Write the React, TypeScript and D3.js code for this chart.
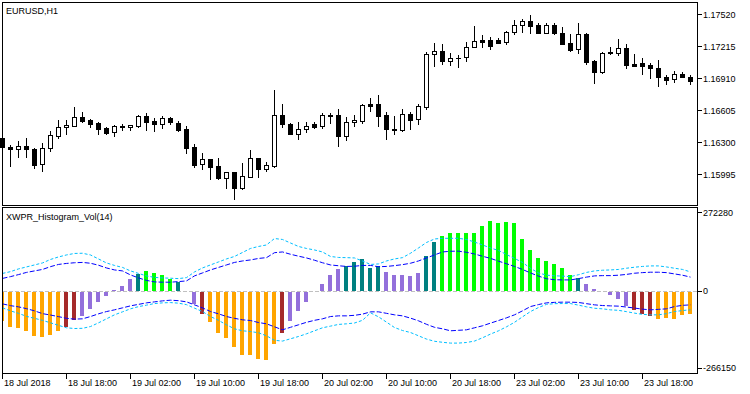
import React from 'react';
import * as d3 from 'd3';

// EURUSD H1 candles, 18 Jul 10:00 .. 24 Jul 00:00
const opens = [
  1.16338, 1.16252, 1.16233, 1.16262, 1.16233, 1.16091, 1.16243, 1.16357, 1.16443, 1.16453,
  1.16538, 1.16510, 1.16481, 1.16434, 1.16395, 1.16453, 1.16443, 1.16453, 1.16548, 1.16500,
  1.16472, 1.16529, 1.16481, 1.16424, 1.16252, 1.16091, 1.16138, 1.16072, 1.15957, 1.16014,
  1.15862, 1.15967, 1.16148, 1.16043, 1.16072, 1.16557, 1.16472, 1.16376, 1.16424, 1.16472,
  1.16453, 1.16548, 1.16557, 1.16357, 1.16491, 1.16500, 1.16662, 1.16662, 1.16557, 1.16424,
  1.16415, 1.16567, 1.16519, 1.16634, 1.17139, 1.17167, 1.17072, 1.17101, 1.17110, 1.17206,
  1.17272, 1.17272, 1.17272, 1.17253, 1.17348, 1.17415, 1.17453, 1.17415, 1.17339, 1.17415,
  1.17339, 1.17244, 1.17186, 1.17329, 1.17072, 1.16967, 1.17158, 1.17148, 1.17196, 1.17044,
  1.17053, 1.17034, 1.17005, 1.16920, 1.16901, 1.16948, 1.16920,
];
const highs = [
  1.16348, 1.16272, 1.16310, 1.16338, 1.16243, 1.16291, 1.16405, 1.16510, 1.16510, 1.16634,
  1.16586, 1.16519, 1.16491, 1.16443, 1.16462, 1.16472, 1.16462, 1.16557, 1.16577, 1.16529,
  1.16548, 1.16538, 1.16500, 1.16453, 1.16281, 1.16195, 1.16138, 1.16148, 1.16014, 1.16014,
  1.16100, 1.16224, 1.16148, 1.16110, 1.16796, 1.16662, 1.16481, 1.16491, 1.16491, 1.16491,
  1.16577, 1.16577, 1.16615, 1.16538, 1.16557, 1.16662, 1.16719, 1.16748, 1.16586, 1.16548,
  1.16615, 1.16586, 1.16662, 1.17158, 1.17244, 1.17234, 1.17148, 1.17129, 1.17253, 1.17406,
  1.17320, 1.17301, 1.17291, 1.17358, 1.17463, 1.17472, 1.17510, 1.17434, 1.17434, 1.17434,
  1.17396, 1.17329, 1.17434, 1.17339, 1.17082, 1.17158, 1.17206, 1.17282, 1.17234, 1.17139,
  1.17101, 1.17053, 1.17082, 1.16939, 1.16977, 1.16967, 1.16939,
];
const lows = [
  1.16243, 1.16072, 1.16157, 1.16157, 1.16053, 1.16024, 1.16214, 1.16338, 1.16376, 1.16453,
  1.16491, 1.16443, 1.16376, 1.16376, 1.16357, 1.16415, 1.16415, 1.16443, 1.16415, 1.16405,
  1.16434, 1.16472, 1.16405, 1.16195, 1.16062, 1.16043, 1.15948, 1.15948, 1.15862, 1.15757,
  1.15852, 1.15967, 1.15967, 1.16024, 1.16062, 1.16443, 1.16376, 1.16329, 1.16395, 1.16434,
  1.16434, 1.16481, 1.16262, 1.16319, 1.16453, 1.16481, 1.16596, 1.16453, 1.16329, 1.16376,
  1.16405, 1.16424, 1.16472, 1.16615, 1.17024, 1.17044, 1.17034, 1.17015, 1.17072, 1.17206,
  1.17206, 1.17186, 1.17244, 1.17234, 1.17329, 1.17348, 1.17339, 1.17339, 1.17339, 1.17329,
  1.17234, 1.17167, 1.17148, 1.17044, 1.16862, 1.16958, 1.17139, 1.17129, 1.17005, 1.17024,
  1.16948, 1.16910, 1.16834, 1.16853, 1.16872, 1.16920, 1.16853,
];
const closes = [
  1.16252, 1.16229, 1.16262, 1.16233, 1.16081, 1.16243, 1.16367, 1.16443, 1.16462, 1.16538,
  1.16500, 1.16472, 1.16424, 1.16386, 1.16453, 1.16443, 1.16462, 1.16548, 1.16491, 1.16472,
  1.16529, 1.16491, 1.16415, 1.16243, 1.16081, 1.16138, 1.16062, 1.15957, 1.16014, 1.15862,
  1.15976, 1.16148, 1.16043, 1.16081, 1.16557, 1.16472, 1.16376, 1.16424, 1.16453, 1.16443,
  1.16557, 1.16553, 1.16357, 1.16491, 1.16510, 1.16653, 1.16643, 1.16548, 1.16424, 1.16419,
  1.16567, 1.16510, 1.16643, 1.17139, 1.17167, 1.17072, 1.17101, 1.17105, 1.17206, 1.17263,
  1.17253, 1.17215, 1.17248, 1.17348, 1.17415, 1.17453, 1.17406, 1.17339, 1.17415, 1.17339,
  1.17234, 1.17177, 1.17329, 1.17063, 1.16967, 1.17148, 1.17144, 1.17196, 1.17034, 1.17024,
  1.17024, 1.17005, 1.16920, 1.16891, 1.16948, 1.16920, 1.16881,
];

// XWPR_Histogram_Vol(14)
const histValues = [
  -100000, -120000, -125500, -137000, -152000, -158000, -150000, -134000, -120000, -98000,
  -85000, -61000, -33500, -12700, 3500, 18500, 41500, 58800, 69000, 63400,
  55300, 41500, 31100, 0, -40300, -75000, -106000, -142000, -161000, -192500,
  -218000, -220000, -231700, -235000, -181000, -144000, -100000, -65700, -34600, 0,
  24200, 55300, 76000, 86500, 100300, 110700, 79500, 86500, 65700, 55300,
  55300, 51900, 62200, 121000, 170500, 190200, 200600, 200600, 200600, 200600,
  224800, 242000, 235000, 238600, 235000, 179800, 141800, 114100, 103700, 93400,
  79500, 55300, 45000, 24200, 6900, 0, -9300, -23100, -47300, -61100,
  -75000, -81900, -92300, -88800, -92300, -78500, -75000,
];
// O orange, B brown, P purple, T teal, G lime
const histColorCodes = (
  'OOOOOOOO' + 'BB' + 'PPPPPPP' + 'T' + 'GGGG' + 'T' + 'PP' + 'B' + 'OOOOOOOOO' + 'B' +
  'PPPPPPP' + 'TTTTT' + 'PPPPP' + 'TT' + 'GGGGGGGGGGGGGGGGG' + 'T' + 'PPPPPP' + 'BBB' + 'OOOOO'
).split('');

const upperOuter = [
  60500, 66700, 76100, 83000, 89900, 96800, 108900, 117600, 124500, 129700,
  130400, 124500, 110700, 96800, 88200, 81300, 69200, 60500, 51900, 46700,
  45000, 43900, 42500, 46000, 65700, 79500, 89900, 100300, 110700, 119300,
  133100, 147000, 153900, 159100, 181500, 178100, 166000, 153900, 147000, 141800,
  134900, 119300, 115800, 115200, 114100, 103700, 91600, 93400, 103700, 110700,
  115200, 130400, 148700, 167700, 179800, 182200, 182200, 182200, 178100, 169400,
  159100, 148700, 140000, 126200, 112400, 98600, 78200, 62200, 54600, 52200,
  51200, 49400, 56000, 64000, 69200, 71600, 72600, 74300, 78500, 82000,
  84700, 86500, 86500, 83000, 78500, 74300, 65700,
];
const upperInner = [
  43200, 49400, 56400, 64000, 69200, 74300, 84000, 91600, 95100, 97500,
  98600, 95800, 88900, 79500, 72600, 69200, 55300, 45000, 36300, 31100,
  30100, 30100, 32200, 34600, 51900, 62200, 72600, 81300, 89900, 98600,
  103700, 107200, 112400, 115200, 132400, 134900, 126900, 120300, 114100, 106200,
  97500, 89900, 87100, 84700, 85400, 88200, 88200, 83700, 84700, 87500,
  90900, 95800, 103700, 114100, 124500, 134900, 137300, 137600, 133800, 127900,
  120000, 112700, 103000, 94100, 84700, 74300, 62200, 51200, 42200, 38700,
  38000, 38000, 42500, 47700, 51900, 52900, 52900, 54300, 57100, 61200,
  63300, 64700, 64700, 63300, 58800, 54300, 47700,
];
const lowerInner = [
  -45000, -51200, -55300, -61600, -69200, -78800, -83700, -89200, -95100, -97900,
  -96800, -88900, -79500, -71600, -65700, -58800, -51900, -46700, -41500, -38000,
  -34600, -32200, -33900, -38000, -48400, -58800, -71600, -79500, -88900, -95100,
  -100300, -102700, -109600, -114100, -124500, -134900, -126200, -117600, -108900, -102000,
  -96800, -88900, -86500, -86500, -84700, -80600, -72600, -72600, -77800, -83000,
  -86500, -94400, -103700, -115800, -126200, -131400, -138300, -136600, -134900, -127900,
  -121000, -111700, -102700, -93400, -83000, -69200, -54300, -47400, -41500, -39800,
  -39100, -39100, -40100, -44300, -48400, -50800, -51900, -52900, -56000, -59500,
  -63300, -65700, -64000, -62200, -54300, -50100, -48400,
];
const lowerOuter = [
  -58800, -69200, -77800, -88200, -95100, -102000, -110700, -119300, -127900, -130400,
  -129700, -123500, -110700, -96800, -83000, -72600, -62200, -54600, -49400, -43900,
  -41500, -40500, -42500, -47700, -59800, -71600, -88900, -102000, -117600, -131400,
  -138300, -140700, -145200, -155600, -171200, -173900, -166000, -158000, -148700, -138300,
  -127900, -122100, -116200, -114100, -111300, -102000, -76100, -89900, -108200, -126900,
  -137300, -144200, -155600, -167000, -174600, -178100, -180900, -180900, -178800, -173900,
  -162500, -149700, -138300, -124500, -108900, -89900, -71600, -57700, -46700, -44300,
  -43900, -43900, -49400, -55300, -60200, -62200, -65700, -67400, -71900, -77100,
  -81300, -83000, -83000, -78800, -71600, -68100, -65700,
];

const priceTicks = [1.1752, 1.17215, 1.1691, 1.16605, 1.163, 1.15995];
const volTicks = [272280, 0, -266150];
const timeTickIdx = [0, 8, 16, 24, 32, 40, 48, 56, 64, 72, 80];
const timeTickLabels = [
  '18 Jul 2018', '18 Jul 18:00', '19 Jul 02:00', '19 Jul 10:00', '19 Jul 18:00',
  '20 Jul 02:00', '20 Jul 10:00', '20 Jul 18:00', '23 Jul 02:00', '23 Jul 10:00', '23 Jul 18:00',
];

const colorMap: Record<string, string> = {
  O: '#FFA500', B: '#A52A2A', P: '#9370DB', T: '#008080', G: '#00FF00',
};

const W = 750, H = 394;
const FONT = '"Liberation Sans", Arial, sans-serif';

export default function App() {
  const n = opens.length;
  // pixel column of each bar's centre
  const x = d3.scaleLinear().domain([0, n - 1]).range([2, 2 + 8 * (n - 1)]);
  const yP = d3.scaleLinear().domain([1.15995, 1.1752]).range([174, 14]);
  const yV = d3.scaleLinear().domain([-266150, 272280]).range([367.7, 212.3]);
  const snap = (v: number) => Math.round(v);

  const bandLine = (arr: number[]) =>
    d3.line<number>().x((_, i) => x(i) + 0.5).y(d => yV(d))(arr) || '';

  const candles = opens.map((o, i) => {
    const c = closes[i];
    const cx = x(i);
    const yH = snap(yP(highs[i])), yL = snap(yP(lows[i]));
    const yO = snap(yP(o)), yC = snap(yP(c));
    const top = Math.min(yO, yC), bot = Math.max(yO, yC);
    const bull = c > o;
    return (
      <g key={i}>
        <line x1={cx + 0.5} x2={cx + 0.5} y1={yH} y2={yL + 1} stroke="#000" />
        {bot - top < 1 ? (
          <line x1={cx - 2} x2={cx + 3} y1={top + 0.5} y2={top + 0.5} stroke="#000" />
        ) : bull ? (
          <rect x={cx - 1.5} y={top + 0.5} width={4} height={bot - top} fill="#fff" stroke="#000" />
        ) : (
          <rect x={cx - 2} y={top} width={5} height={bot - top + 1} fill="#000" />
        )}
      </g>
    );
  });

  const zeroY = snap(yV(0));
  const bars = histValues.map((v, i) => {
    if (v === 0) return null;
    const yv = snap(yV(v));
    const top = Math.min(yv, zeroY), h = Math.abs(yv - zeroY);
    return <rect key={i} x={x(i) - 2} y={v > 0 ? top : zeroY + 1} width={4} height={h} fill={colorMap[histColorCodes[i]]} />;
  });

  return (
    <svg width={W} height={H} style={{ position: 'absolute', left: 0, top: 0, background: '#fff' }}
      fontFamily={FONT} fontSize={9}>
      <rect width={W} height={H} fill="#fff" />

      {/* price panel */}
      <rect x={2.5} y={2.5} width={695} height={203} fill="none" stroke="#000" />
      <g>{candles}</g>
      <text x={6} y={14}>EURUSD,H1</text>
      {priceTicks.map(p => (
        <g key={p}>
          <line x1={698} x2={702} y1={snap(yP(p)) + 0.5} y2={snap(yP(p)) + 0.5} stroke="#000" />
          <text x={703} y={yP(p) + 3.5}>{p.toFixed(5)}</text>
        </g>
      ))}

      {/* indicator panel */}
      <line x1={3} x2={697} y1={zeroY + 0.5} y2={zeroY + 0.5} stroke="#C0C0C0" strokeDasharray="4,2" />
      <g>{bars}</g>
      <path d={bandLine(upperOuter)} fill="none" stroke="#00BFFF" strokeDasharray="3,2" />
      <path d={bandLine(lowerOuter)} fill="none" stroke="#00BFFF" strokeDasharray="3,2" />
      <path d={bandLine(upperInner)} fill="none" stroke="#0000FF" strokeDasharray="5,2" />
      <path d={bandLine(lowerInner)} fill="none" stroke="#0000FF" strokeDasharray="5,2" />
      <rect x={0} y={207} width={2} height={167} fill="#fff" />
      <rect x={2.5} y={207.5} width={695} height={166} fill="none" stroke="#000" />
      <text x={6} y={220}>XWPR_Histogram_Vol(14)</text>
      {volTicks.map(v => (
        <g key={v}>
          <line x1={698} x2={702} y1={snap(yV(v)) + 0.5} y2={snap(yV(v)) + 0.5} stroke="#000" />
          <text x={703} y={yV(v) + 3.5}>{v}</text>
        </g>
      ))}

      {/* time axis */}
      {timeTickIdx.map((idx, k) => (
        <g key={idx}>
          <line x1={x(idx) + 0.5} x2={x(idx) + 0.5} y1={374} y2={379} stroke="#000" />
          <text x={x(idx) + 2} y={386}>{timeTickLabels[k]}</text>
        </g>
      ))}
    </svg>
  );
}
